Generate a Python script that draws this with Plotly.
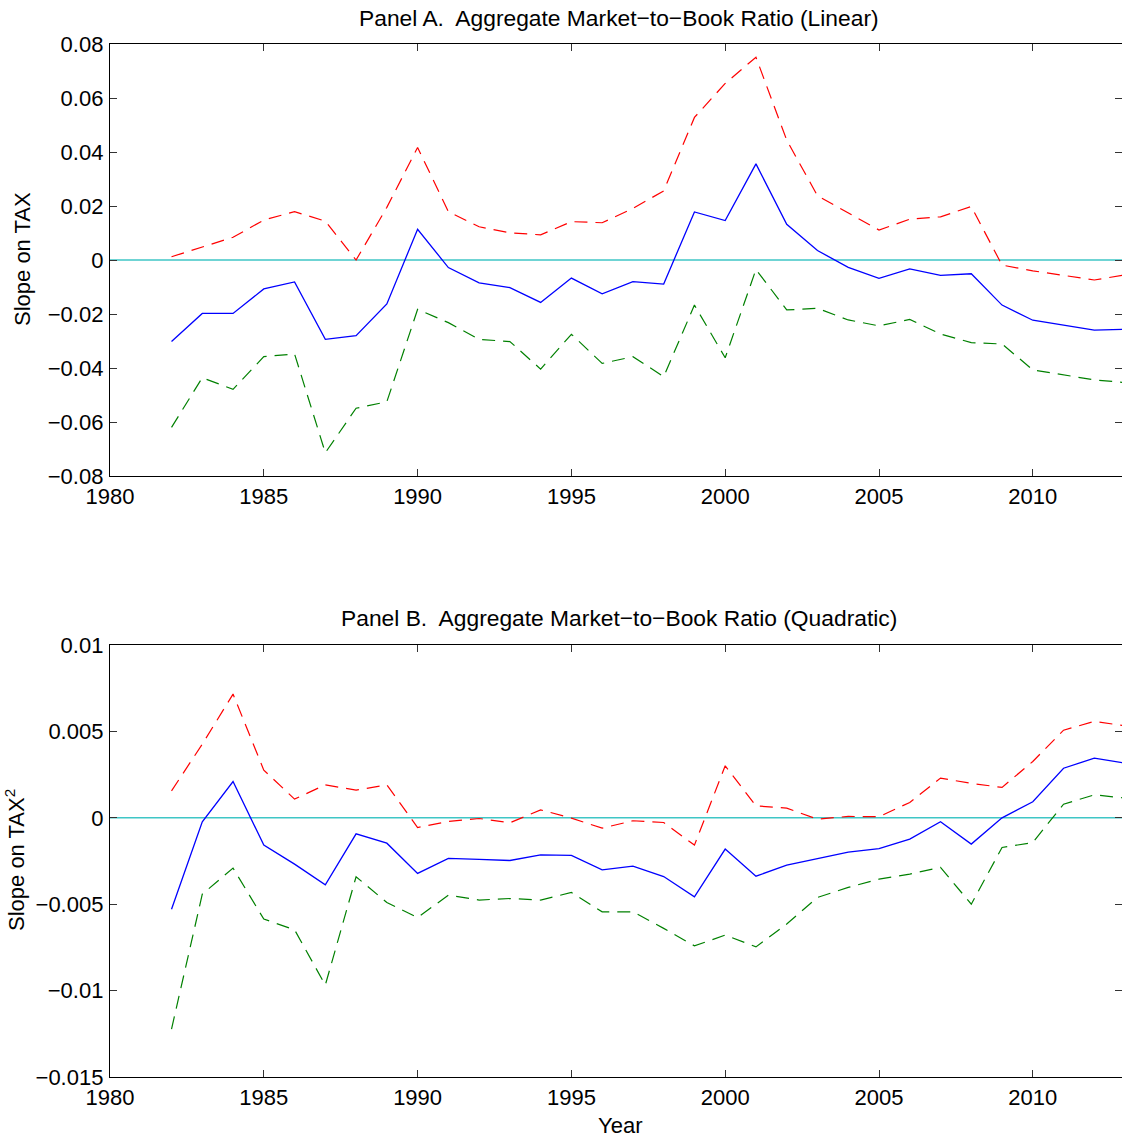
import plotly.graph_objects as go

years = list(range(1982, 2014))

# Panel A (linear)
a_est = [-0.0302, -0.0198, -0.0198, -0.0107, -0.0081, -0.0294, -0.0280, -0.0163, 0.0114, -0.0028,
         -0.0085, -0.0102, -0.0157, -0.0067, -0.0125, -0.0080, -0.0089, 0.0178, 0.0146, 0.0356,
         0.0132, 0.0035, -0.0027, -0.0068, -0.0033, -0.0057, -0.0051, -0.0167, -0.0223, -0.0242,
         -0.0260, -0.0257]
a_up = [0.0012, 0.0047, 0.0084, 0.0148, 0.0179, 0.0144, 0.0000, 0.0195, 0.0417, 0.0179,
        0.0123, 0.0101, 0.0093, 0.0142, 0.0138, 0.0191, 0.0256, 0.0528, 0.0654, 0.0751,
        0.0444, 0.0238, 0.0175, 0.0111, 0.0151, 0.0160, 0.0198, -0.0019, -0.0040, -0.0058,
        -0.0074, -0.0055]
a_lo = [-0.0620, -0.0436, -0.0479, -0.0358, -0.0348, -0.0714, -0.0549, -0.0525, -0.0183, -0.0232,
        -0.0294, -0.0302, -0.0404, -0.0275, -0.0383, -0.0358, -0.0432, -0.0167, -0.0362, -0.0035,
        -0.0185, -0.0179, -0.0222, -0.0244, -0.0220, -0.0274, -0.0306, -0.0311, -0.0407, -0.0426,
        -0.0444, -0.0454]

# Panel B (quadratic)
b_est = [-0.00529, -0.00023, 0.00210, -0.00158, -0.00268, -0.00388, -0.00093, -0.00147, -0.00322, -0.00235,
         -0.00241, -0.00247, -0.00214, -0.00218, -0.00301, -0.00280, -0.00340, -0.00457, -0.00181, -0.00338,
         -0.00274, -0.00235, -0.00199, -0.00179, -0.00123, -0.00023, -0.00152, 0.00000, 0.00093, 0.00287,
         0.00345, 0.00316]
b_up = [0.00156, 0.00426, 0.00716, 0.00276, 0.00108, 0.00191, 0.00160, 0.00191, -0.00056, -0.00021,
        -0.00004, -0.00029, 0.00046, -0.00002, -0.00060, -0.00017, -0.00027, -0.00158, 0.00301, 0.00069,
        0.00056, -0.00008, 0.00008, 0.00006, 0.00089, 0.00230, 0.00199, 0.00176, 0.00326, 0.00507,
        0.00558, 0.00532]
b_lo = [-0.01223, -0.00442, -0.00291, -0.00586, -0.00648, -0.00968, -0.00341, -0.00490, -0.00577, -0.00448,
        -0.00476, -0.00467, -0.00476, -0.00432, -0.00544, -0.00544, -0.00640, -0.00741, -0.00679, -0.00747,
        -0.00615, -0.00461, -0.00403, -0.00355, -0.00326, -0.00287, -0.00500, -0.00172, -0.00143, 0.00079,
        0.00133, 0.00114]

x_ticks = [1980, 1985, 1990, 1995, 2000, 2005, 2010]
a_ticks = [0.08, 0.06, 0.04, 0.02, 0, -0.02, -0.04, -0.06, -0.08]
a_ticktext = ["0.08", "0.06", "0.04", "0.02", "0", "\u22120.02", "\u22120.04", "\u22120.06", "\u22120.08"]
b_ticks = [0.01, 0.005, 0, -0.005, -0.01, -0.015]
b_ticktext = ["0.01", "0.005", "0", "\u22120.005", "\u22120.01", "\u22120.015"]

W, H = 1122, 1141
L = 110
FONT = "Liberation Sans, Arial, Helvetica, sans-serif"
FS = 22
dash = "13px,8px"

fig = go.Figure()

def add_panel(est, up, lo, xa, ya):
    fig.add_trace(go.Scatter(x=[1980, 2013], y=[0, 0], mode="lines",
                             line=dict(color="#3fc6c6", width=1.6), xaxis=xa, yaxis=ya, hoverinfo="skip"))
    fig.add_trace(go.Scatter(x=years, y=up, mode="lines",
                             line=dict(color="#ff0000", width=1.2, dash=dash), xaxis=xa, yaxis=ya))
    fig.add_trace(go.Scatter(x=years, y=lo, mode="lines",
                             line=dict(color="#008000", width=1.2, dash=dash), xaxis=xa, yaxis=ya))
    fig.add_trace(go.Scatter(x=years, y=est, mode="lines",
                             line=dict(color="#0000ff", width=1.3), xaxis=xa, yaxis=ya))

add_panel(a_est, a_up, a_lo, "x", "y")
add_panel(b_est, b_up, b_lo, "x2", "y2")

def yd(top_px, bot_px):
    return [1 - bot_px / H, 1 - top_px / H]

axis_common = dict(showline=True, linecolor="black", linewidth=1.3, mirror="ticks",
                   ticks="inside", ticklen=7, tickwidth=1, tickcolor="#333333",
                   showgrid=False, zeroline=False, automargin=False,
                   tickfont=dict(family=FONT, size=FS, color="black"))

fig.update_layout(
    width=W, height=H,
    margin=dict(l=L, r=0, t=0, b=0),
    paper_bgcolor="white", plot_bgcolor="white",
    showlegend=False,
    xaxis=dict(range=[1980, 2012.9], tickvals=x_ticks, domain=[0, 1], anchor="y",
               ticklabelstandoff=0, **axis_common),
    yaxis=dict(range=[-0.08, 0.08], tickvals=a_ticks, ticktext=a_ticktext,
               domain=yd(44, 476), anchor="x", ticklabelstandoff=1, **axis_common),
    xaxis2=dict(range=[1980, 2012.9], tickvals=x_ticks, domain=[0, 1], anchor="y2",
                ticklabelstandoff=0, **axis_common),
    yaxis2=dict(range=[-0.015, 0.01], tickvals=b_ticks, ticktext=b_ticktext,
                domain=yd(645, 1077), anchor="x2", ticklabelstandoff=1, **axis_common),
)

def ann(text, px, py, angle=0, size=FS):
    fig.add_annotation(text=text, textangle=angle,
                       x=(px - L) / (W - L), y=1 - py / H, xref="paper", yref="paper",
                       xanchor="center", yanchor="middle", showarrow=False,
                       font=dict(family=FONT, size=size, color="black"))

ann("Panel A.  Aggregate Market\u2212to\u2212Book Ratio (Linear)", 619, 18, size=22.8)
ann("Panel B.  Aggregate Market\u2212to\u2212Book Ratio (Quadratic)", 619, 618, size=22.8)
ann("Slope on TAX", 22, 259, -90)
ann("Slope on TAX<sup>2</sup>", 15, 860, -90)
ann("Year", 620, 1125)

fig.write_html("out.html")
